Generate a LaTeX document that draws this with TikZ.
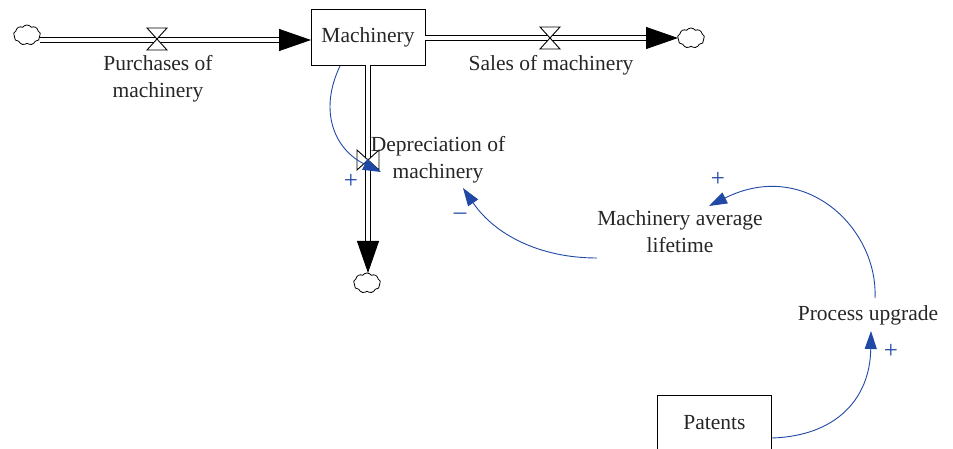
\documentclass[tikz,border=0pt]{standalone}
\usepackage{fontspec}
\setmainfont{Liberation Serif}
\usetikzlibrary{arrows.meta,shapes.symbols}
\definecolor{linkblue}{RGB}{32,72,165}
\begin{document}
\begin{tikzpicture}[x=1pt,y=-1pt,
  lbl/.style={font=\fontsize{21.5}{27}\selectfont, text=black!85, align=center, inner sep=1pt},
  stockbox/.style={draw, line width=0.9pt, minimum width=114pt, minimum height=56pt, font=\fontsize{21.5}{27}\selectfont, text=black!85},
  pipe/.style={draw=black, line width=0.9pt, double=white, double distance=4pt, -{Triangle[length=32pt,width=22pt,fill=black]}},
  cloudsym/.style={cloud, cloud puffs=9, cloud puff arc=110, draw, line width=0.8pt, minimum width=27pt, minimum height=20pt, inner sep=0pt},
  link/.style={draw=linkblue, line width=0.9pt, -{Triangle[length=18pt,width=12pt]}},
  sign/.style={text=linkblue, font=\fontsize{25}{28}\selectfont, inner sep=0pt}
]
\useasboundingbox (0,0) rectangle (953,449);

% stocks
\node[stockbox] (mach) at (368,37) {Machinery};
\node[stockbox] (pat) at (714.5,423) {Patents};

% clouds
\node[cloudsym] (cl1) at (27,35) {};
\node[cloudsym] (cl2) at (691,38) {};
\node[cloudsym] (cl3) at (367,283) {};

% pipes
\coordinate (p1s) at (40,40);
\coordinate (p1e) at (311,40);
\draw[pipe] (p1s) -- (p1e);
\coordinate (p2s) at (425,38);
\coordinate (p2e) at (678,38);
\draw[pipe] (p2s) -- (p2e);
\coordinate (p3s) at (368,65);
\coordinate (p3e) at (368,273);
\draw[pipe] (p3s) -- (p3e);

% valves
\coordinate (v1) at (157,39);
\draw[line width=0.9pt, fill=white] (147,28) -- (167,28) -- (147,50) -- (167,50) -- cycle;
\coordinate (v2) at (550,38);
\draw[line width=0.9pt, fill=white] (540,27) -- (560,27) -- (540,49) -- (560,49) -- cycle;
\coordinate (v3) at (368,160);
\draw[line width=0.9pt, fill=white] (357,150) -- (357,170) -- (379,150) -- (379,170) -- cycle;

% flow labels
\node[lbl] (purch) at (158,79) {Purchases of\\machinery};
\node[lbl] (sales) at (551,65) {Sales of machinery};
\node[lbl] (dep) at (438,160) {Depreciation of\\machinery};

% auxiliaries
\node[lbl] (life) at (680,232) {Machinery average\\lifetime};
\node[lbl] (proc) at (868,315) {Process upgrade};

% links
\coordinate (a1s) at (340,66);
\coordinate (a1e) at (381,172);
\draw[link] (a1s) .. controls (318,112) and (335,150) .. (a1e);
\node[sign] (s1) at (351,181) {+};

\coordinate (a2s) at (597,258);
\coordinate (a2e) at (463,188);
\draw[link] (a2s) .. controls (540,258) and (495,235) .. (a2e);
\node[sign] (s2) at (460,216) {\textendash};

\coordinate (a3s) at (875,298);
\coordinate (a3e) at (709,206);
\draw[link] (a3s) .. controls (878,228) and (805,158) .. (a3e);
\node[sign] (s3) at (718,179) {+};

\coordinate (a4s) at (772,438);
\coordinate (a4e) at (871,331);
\draw[link] (a4s) .. controls (835,436) and (870,400) .. (a4e);
\node[sign] (s4) at (891,351) {+};
\end{tikzpicture}
\end{document}
